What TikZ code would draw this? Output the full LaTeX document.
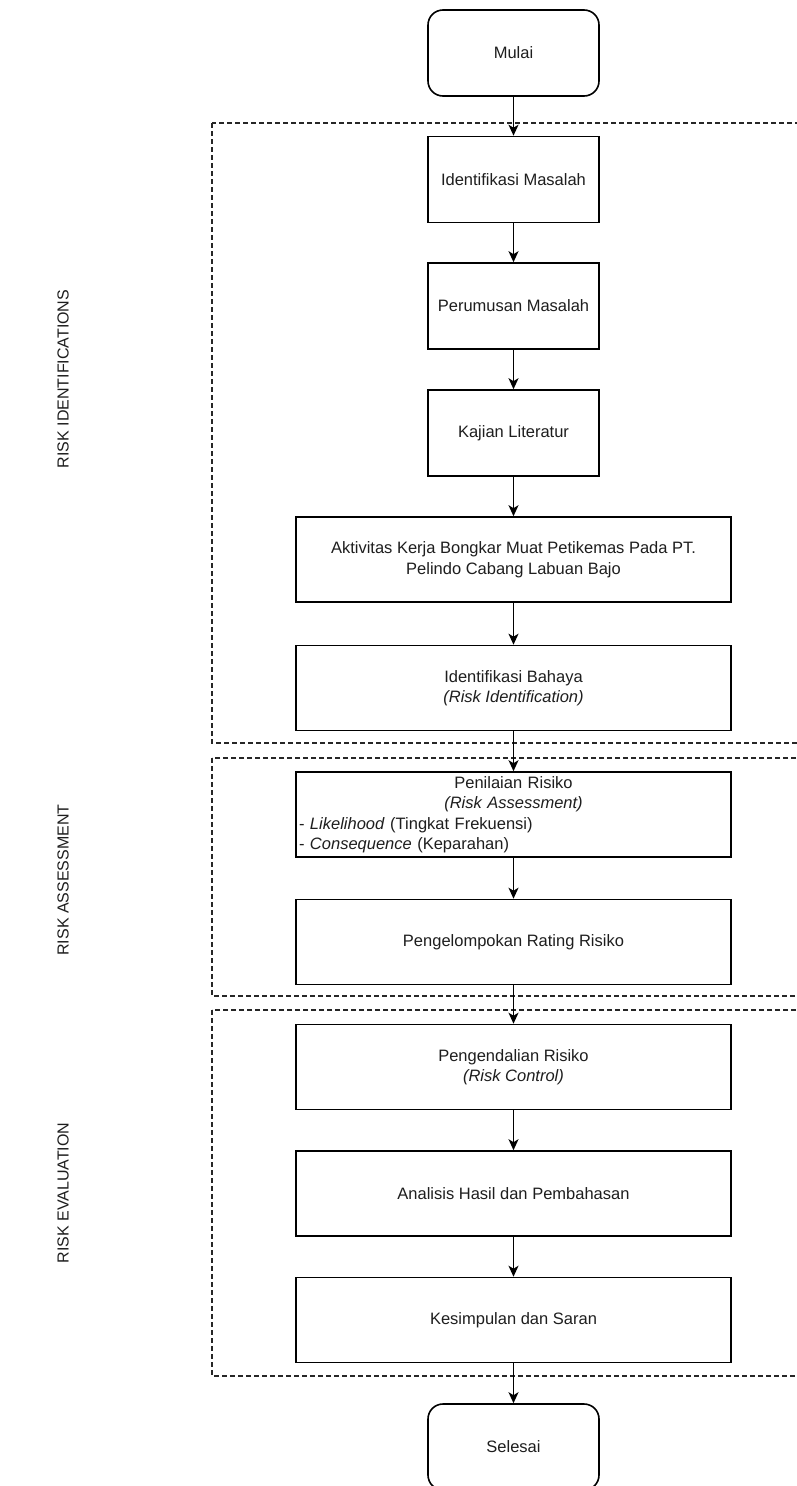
\documentclass[tikz,border=0pt]{standalone}
\usepackage{fontspec}
\setmainfont{Liberation Sans}
\usetikzlibrary{arrows.meta}
\definecolor{ink}{HTML}{1E1E1E}
\tikzset{
  every node/.style={font=\fontsize{16.5}{20.5}\selectfont, text=ink},
  box/.style={draw=black, line width=1.6pt, minimum width=171pt, minimum height=86pt, inner sep=2pt, align=center},
  widebox/.style={box, minimum width=435pt, minimum height=85pt},
  terminal/.style={box, rounded corners=15pt},
  flow/.style={draw=black, line width=1.6pt, -{Stealth[length=11pt, width=10pt, inset=3pt]}},
  phase/.style={draw=black!85, line width=1.4pt, dash pattern=on 5pt off 3pt},
  phaselabel/.style={rotate=90, font=\fontsize{16}{19}\selectfont},
}
\begin{document}
\begin{tikzpicture}[x=1pt, y=-1pt]
  \useasboundingbox (0,0) rectangle (797,1486);
  \clip (0,0) rectangle (797,1486);
  \fill[white] (0,0) rectangle (797,1486);

  % phase frames
  \draw[phase] (212,123) rectangle (830,743);
  \draw[phase] (212,758) rectangle (830,996);
  \draw[phase] (212,1010) rectangle (830,1376);

  % phase labels
  \node[phaselabel] (lblident) at (63,379) {RISK IDENTIFICATIONS};
  \node[phaselabel] (lblassess) at (63,880) {RISK ASSESSMENT};
  \node[phaselabel] (lbleval) at (63,1193) {RISK EVALUATION};

  % process steps
  \node[terminal] (mulai) at (513.5,53) {Mulai};
  \node[box] (idmasalah) at (513.5,179.5) {Identifikasi Masalah};
  \node[box] (rumus) at (513.5,306) {Perumusan Masalah};
  \node[box] (kajian) at (513.5,433) {Kajian Literatur};
  \node[widebox] (aktivitas) at (513.5,559.5) {Aktivitas Kerja Bongkar Muat Petikemas Pada PT.\\ Pelindo Cabang Labuan Bajo};
  \node[widebox] (bahaya) at (513.5,688) {Identifikasi Bahaya\\ \textit{(Risk Identification)}};
  \node[widebox, text width=429pt, inner xsep=3pt, inner ysep=1pt] (nilai) at (513.5,814.5)
    {\centering Penilaian Risiko\\ \textit{(Risk Assessment)}\par
     \raggedright - \textit{Likelihood} (Tingkat Frekuensi)\\ - \textit{Consequence} (Keparahan)\par};
  \node[widebox] (rating) at (513.5,942) {Pengelompokan Rating Risiko};
  \node[widebox] (kendali) at (513.5,1067) {Pengendalian Risiko\\ \textit{(Risk Control)}};
  \node[widebox] (analisis) at (513.5,1193.5) {Analisis Hasil dan Pembahasan};
  \node[widebox] (simpul) at (513.5,1320) {Kesimpulan dan Saran};
  \node[terminal] (selesai) at (513.5,1447) {Selesai};

  % connectors
  \draw[flow] (mulai) -- (idmasalah);
  \draw[flow] (idmasalah) -- (rumus);
  \draw[flow] (rumus) -- (kajian);
  \draw[flow] (kajian) -- (aktivitas);
  \draw[flow] (aktivitas) -- (bahaya);
  \draw[flow] (bahaya) -- (nilai);
  \draw[flow] (nilai) -- (rating);
  \draw[flow] (rating) -- (kendali);
  \draw[flow] (kendali) -- (analisis);
  \draw[flow] (analisis) -- (simpul);
  \draw[flow] (simpul) -- (selesai);
\end{tikzpicture}
\end{document}
